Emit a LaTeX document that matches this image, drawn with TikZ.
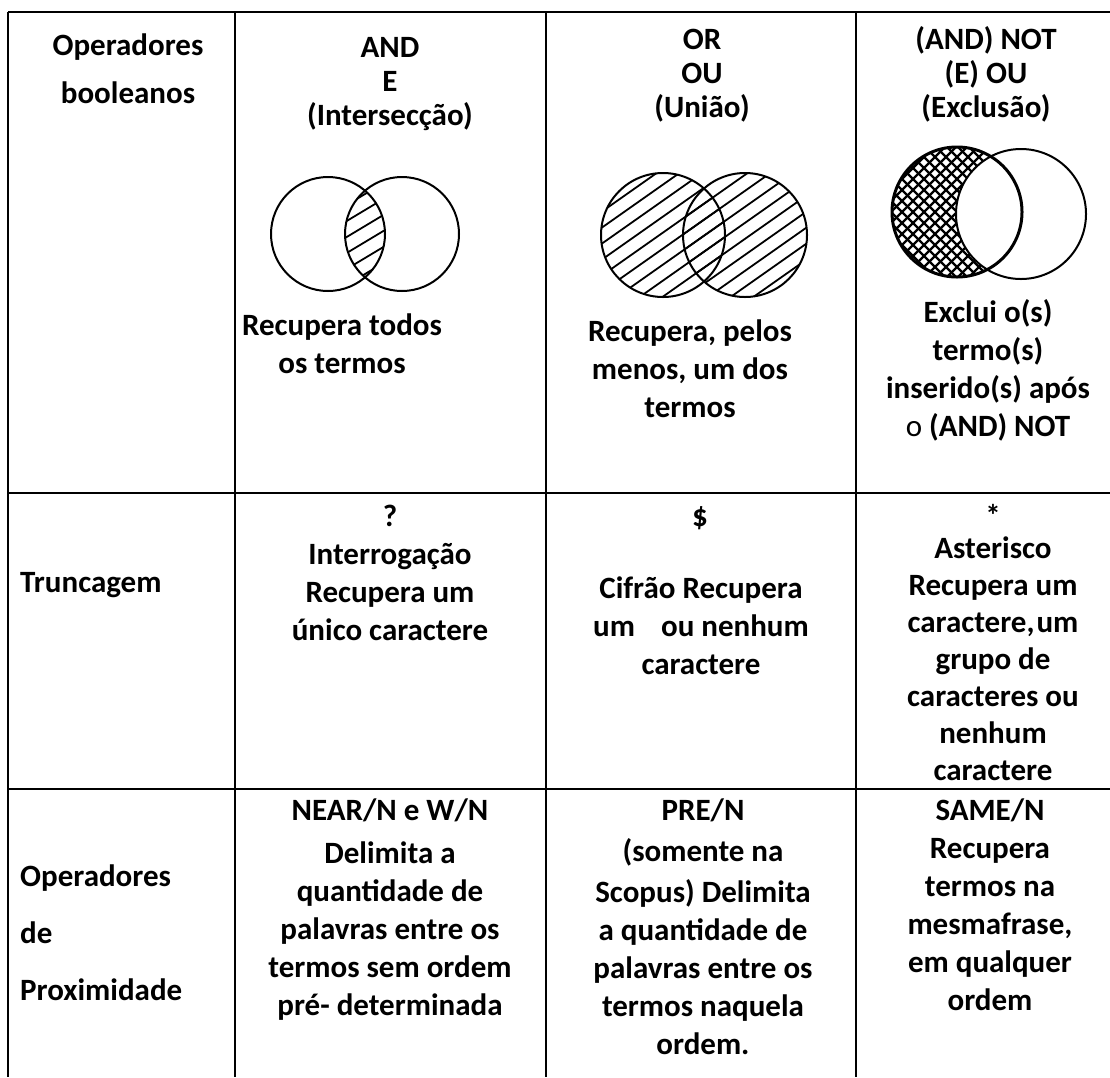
\documentclass[tikz,border=0pt]{standalone}
\usepackage{fontspec}
\setmainfont{Carlito}
\usetikzlibrary{positioning}

\newcommand{\topstrut}{\rule{0pt}{26pt}}
\tikzset{
  cell/.style={anchor=north, align=center, inner sep=0pt,
    font=\bfseries\fontsize{31}{38}\selectfont},
  head/.style={cell, font=\bfseries\fontsize{31}{34}\selectfont},
  hline/.style={line width=2.5pt},
  vline/.style={line width=1.3pt},
  venn/.style={line width=2pt},
  hatch/.style={line width=1.8pt},
}

\begin{document}
\begin{tikzpicture}[x=1pt,y=-1pt]
\useasboundingbox (0,0) rectangle (1110,1077);

% table rules
\foreach \y in {12,493,789}
  \draw[hline] (8,\y) -- (1110,\y);
\foreach \x in {8,235,546,856}
  \draw[vline] (\x,12) -- (\x,1077);

% first row: headers
\node[cell, font=\bfseries\fontsize{31}{48}\selectfont] (boolhead) at (128,29) {\topstrut Operadores\\booleanos};
\node[head] (andhead) at (390,31) {\topstrut AND\\E\\(Intersecção)};
\node[head] (orhead) at (702,23) {\topstrut OR\\OU\\(União)};
\node[head] (nothead) at (986,23) {\topstrut(AND) NOT\\(E) OU\\(Exclusão)};

% AND
\begin{scope}
  \clip (328,234) circle[radius=57];
  \clip (402,234) circle[radius=57];
  \foreach \k in {-5,...,5}
    \draw[hatch] (265,234+\k*16+36) -- (465,234+\k*16-84);
\end{scope}
\draw[venn] (328,234) circle[radius=57];
\draw[venn] (402,234) circle[radius=57];

% OR
\foreach \c in {(663,235),(745,235)}{
  \begin{scope}
    \clip \c circle[radius=62];
    \foreach \k in {-14,...,14}
      \draw[hatch] (580,235+\k*16+88) -- (830,235+\k*16-88);
  \end{scope}
}
\draw[venn] (663,235) circle[radius=62];
\draw[venn] (745,235) circle[radius=62];

% NOT
\begin{scope}
  \clip (957,212) circle[radius=65];
  \foreach \k in {-14,...,14}{
    \draw[line width=2.2pt] (957+\k*11-80,292) -- (957+\k*11+80,132);
    \draw[line width=2.2pt] (957+\k*11-80,132) -- (957+\k*11+80,292);
  }
  \fill[white] (1021,214) circle[radius=65];
\end{scope}
\draw[line width=3pt] (957,212) circle[radius=65];
\draw[venn] (1021,214) circle[radius=65];

\node[cell] (andtxt) at (342,309) {\topstrut Recupera todos\\os termos};
\node[cell] (ortxt) at (690,315) {\topstrut Recupera, pelos\\menos, um dos\\termos};
\node[cell] (nottxt) at (988,296) {\topstrut Exclui o(s)\\termo(s)\\inserido(s) após\\{\mdseries o} (AND) NOT};

% second row
\node[cell, anchor=west] (trunc) at (20,585) {Truncagem};
\node[cell] (qmark) at (390,500) {\topstrut ?\\Interrogação\\Recupera um\\único caractere};
\node[cell] (dollar) at (700,500) {\topstrut\$};
\node[cell] (dollartxt) at (701,572) {\topstrut Cifrão Recupera\\um\hspace{26pt}ou nenhum\\caractere};
\node[cell] (star) at (993,500) {\topstrut *};
\node[cell, font=\bfseries\fontsize{31}{37}\selectfont] (startxt) at (993,532) {\topstrut Asterisco\\Recupera um\\caractere,\hspace{2pt}um\\grupo de\\caracteres ou\\nenhum\\caractere};

% third row
\node[cell, anchor=north west, align=left, font=\bfseries\fontsize{31}{57}\selectfont] (prox) at (20,860) {\topstrut Operadores\\de\\Proximidade};
\node[cell] (near) at (390,794) {\topstrut NEAR/N e W/N\\[5pt]Delimita a\\quantidade de\\palavras entre os\\termos sem ordem\\pré- determinada};
\node[cell] (pre) at (703,794) {\topstrut PRE/N\\[3pt](somente na\\[3pt]Scopus) Delimita\\a quantidade de\\palavras entre os\\termos naquela\\ordem.};
\node[cell] (same) at (990,794) {\topstrut SAME/N\\Recupera\\termos na\\mesmafrase,\\em qualquer\\ordem};
\end{tikzpicture}
\end{document}
